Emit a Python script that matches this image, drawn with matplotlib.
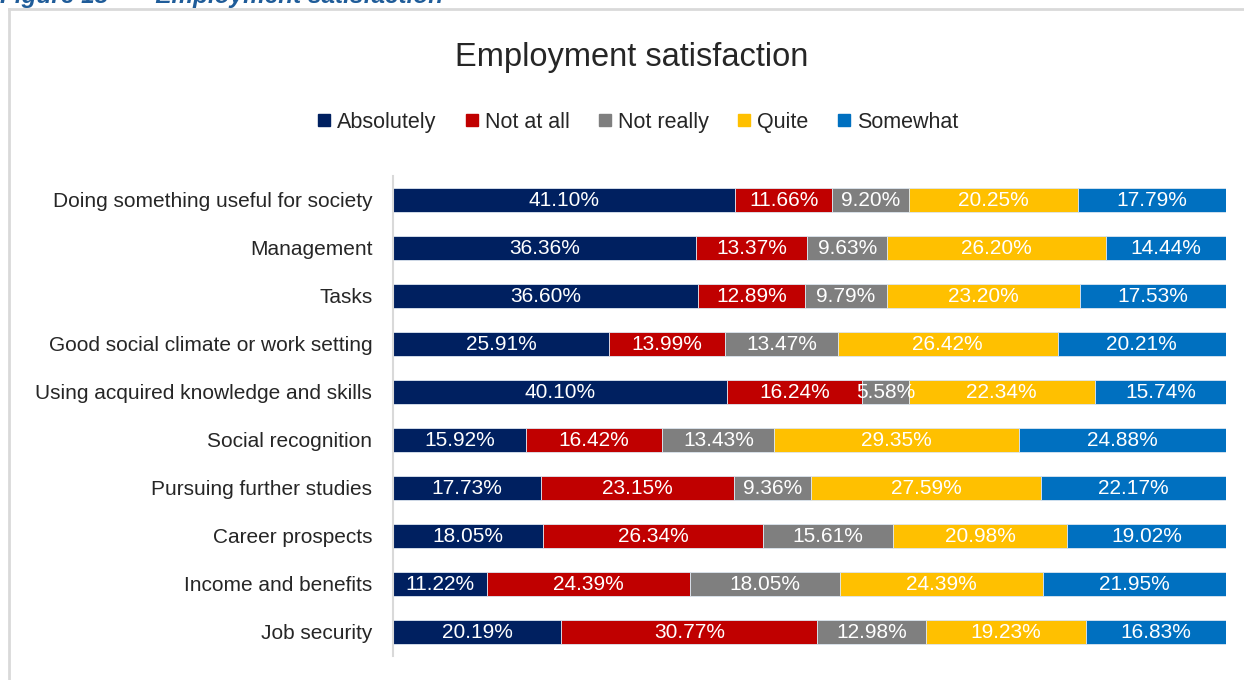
import numpy as np
import matplotlib.pyplot as plt
from matplotlib.lines import Line2D

plt.rcParams['font.family'] = ['Liberation Sans', 'DejaVu Sans']

categories = [
    'Doing something useful for society',
    'Management',
    'Tasks',
    'Good social climate or work setting',
    'Using acquired knowledge and skills',
    'Social recognition',
    'Pursuing further studies',
    'Career prospects',
    'Income and benefits',
    'Job security',
]
series = ['Absolutely', 'Not at all', 'Not really', 'Quite', 'Somewhat']
absolutely = [41.10, 36.36, 36.60, 25.91, 40.10, 15.92, 17.73, 18.05, 11.22, 20.19]
not_at_all = [11.66, 13.37, 12.89, 13.99, 16.24, 16.42, 23.15, 26.34, 24.39, 30.77]
not_really = [9.20, 9.63, 9.79, 13.47, 5.58, 13.43, 9.36, 15.61, 18.05, 12.98]
quite = [20.25, 26.20, 23.20, 26.42, 22.34, 29.35, 27.59, 20.98, 24.39, 19.23]
somewhat = [17.79, 14.44, 17.53, 20.21, 15.74, 24.88, 22.17, 19.02, 21.95, 16.83]
colors = ['#002060', '#C00000', '#7F7F7F', '#FFC000', '#0070C0']

values = [absolutely, not_at_all, not_really, quite, somewhat]

fig = plt.figure(figsize=(12.44, 6.8), dpi=100)
ax = fig.add_axes([0.316, 0.0353, 0.6695, 0.7059])

y = np.arange(len(categories))
left = np.zeros(len(categories))
for name, vals, col in zip(series, values, colors):
    vals = np.array(vals)
    ax.barh(y, vals, left=left, height=0.5, color=col, label=name,
            edgecolor='#dde6f0', linewidth=0.6)
    for yi, l, v in zip(y, left, vals):
        ax.text(l + v / 2, yi + 0.02, f'{v:.2f}%', ha='center', va='center',
                color='white', fontsize=15)
    left += vals

ax.set_xlim(0, left.max())
ax.set_ylim(len(categories) - 0.5, -0.5)
ax.set_yticks(y)
ax.set_yticklabels(categories, fontsize=15, color='#262626')
ax.tick_params(axis='y', length=0, pad=15)
ax.set_xticks([])
for s in ['top', 'right', 'bottom']:
    ax.spines[s].set_visible(False)
ax.spines['left'].set_color('#d9d9d9')
ax.spines['left'].set_linewidth(1.5)

fig.text(0.508, 0.915, 'Employment satisfaction', ha='center', va='center',
         fontsize=23.5, color='#262626')

handles = [Line2D([], [], marker='s', linestyle='none', markersize=9,
                  markerfacecolor=c, markeredgecolor=c) for c in colors]
fig.legend(handles, series, loc='center', bbox_to_anchor=(0.511, 0.82),
           ncol=5, frameon=False, fontsize=15.5, handletextpad=0.1,
           columnspacing=1.15, handlelength=1.0, labelcolor='#262626')

# figure caption, mostly above the visible area
fig.text(0.0, 1 - 3 / 680, 'Figure 18       Employment satisfaction',
         ha='left', va='baseline', fontsize=17.5, fontweight='bold',
         fontstyle='italic', color='#1F5C99')

# chart frame
fig.add_artist(Line2D([9 / 1244, 1243 / 1244], [1 - 9 / 680, 1 - 9 / 680],
                      color='#d9d9d9', linewidth=2))
fig.add_artist(Line2D([9 / 1244, 9 / 1244], [0, 1 - 9 / 680],
                      color='#d9d9d9', linewidth=2))

fig.savefig('out.png', dpi=100)
